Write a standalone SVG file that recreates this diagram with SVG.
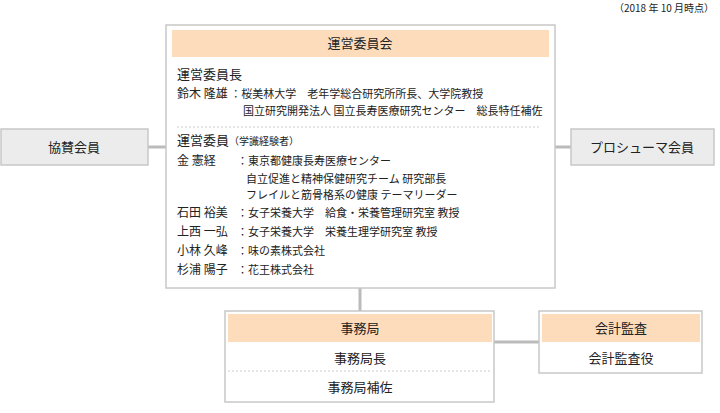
<svg xmlns="http://www.w3.org/2000/svg" width="720" height="413" viewBox="0 0 720 413">
<style>
text{font-family:"Noto Sans CJK JP","Noto Sans",sans-serif;fill:#222}
.box{fill:#fff;stroke:#c8c8c8;stroke-width:1.5}
.hdr{fill:#fddcbc}
.side{fill:#ececec;stroke:#c8c8c8;stroke-width:1.5}
.t13{font-size:13px}
.t12{font-size:12px}
.t11{font-size:11px}
.c{text-anchor:middle}
.conn{stroke:#bbb;stroke-width:3;fill:none}
.dot{stroke:#ccc;stroke-width:1;stroke-dasharray:2 2}
</style>
<text x="714" y="12" font-size="10" text-anchor="end">（2018 年 10 月時点）</text>
<g id="connectors">
<line class="conn" x1="148" y1="147" x2="167" y2="147"/>
<line class="conn" x1="554" y1="147" x2="571" y2="147"/>
<line class="conn" x1="360" y1="288" x2="360" y2="312"/>
<line class="conn" x1="494" y1="342" x2="540" y2="342"/>
</g>
<g id="steering">
<rect class="box" x="166" y="25" width="389" height="263"/>
<rect class="hdr" x="172" y="30" width="377" height="27"/>
<text class="t13 c" x="360" y="48">運営委員会</text>
<text class="t13" x="177" y="79">運営委員長</text>
<text class="t11" x="177" y="98"><tspan font-size="12">鈴木 隆雄</tspan> ：桜美林大学　老年学総合研究所所長、大学院教授</text>
<text class="t11" x="243" y="115">国立研究開発法人 国立長寿医療研究センター　総長特任補佐</text>
<line class="dot" x1="177" y1="127" x2="540" y2="127"/>
<text class="t13" x="177" y="145">運営委員<tspan font-size="10">（学識経験者）</tspan></text>
<text class="t12" x="177" y="165">金 憲経</text><text class="t11" x="237" y="165">：東京都健康長寿医療センター</text>
<text class="t11" x="246" y="183">自立促進と精神保健研究チーム 研究部長</text>
<text class="t11" x="246" y="199">フレイルと筋骨格系の健康 テーマリーダー</text>
<text class="t12" x="177" y="217">石田 裕美</text><text class="t11" x="237" y="217">：女子栄養大学　給食・栄養管理研究室 教授</text>
<text class="t12" x="177" y="236">上西 一弘</text><text class="t11" x="237" y="236">：女子栄養大学　栄養生理学研究室 教授</text>
<text class="t12" x="177" y="255">小林 久峰</text><text class="t11" x="237" y="255">：味の素株式会社</text>
<text class="t12" x="177" y="274">杉浦 陽子</text><text class="t11" x="237" y="274">：花王株式会社</text>
</g>
<g id="sponsor">
<rect class="side" x="1" y="129" width="147" height="36"/>
<text class="t13 c" x="74" y="152">協賛会員</text>
</g>
<g id="prosumer">
<rect class="side" x="571" y="129" width="143" height="36"/>
<text class="t13 c" x="642" y="152">プロシューマ会員</text>
</g>
<g id="secretariat">
<rect class="box" x="225" y="311" width="269" height="91"/>
<rect class="hdr" x="228" y="314" width="264" height="28"/>
<text class="t13 c" x="360" y="333">事務局</text>
<text class="t13 c" x="360" y="363">事務局長</text>
<line class="dot" x1="228" y1="371" x2="492" y2="371"/>
<text class="t13 c" x="360" y="392">事務局補佐</text>
</g>
<g id="audit">
<rect class="box" x="539" y="311" width="163" height="62"/>
<rect class="hdr" x="542" y="314" width="158" height="28"/>
<text class="t13 c" x="621" y="333">会計監査</text>
<text class="t13 c" x="621" y="363">会計監査役</text>
</g>
</svg>
